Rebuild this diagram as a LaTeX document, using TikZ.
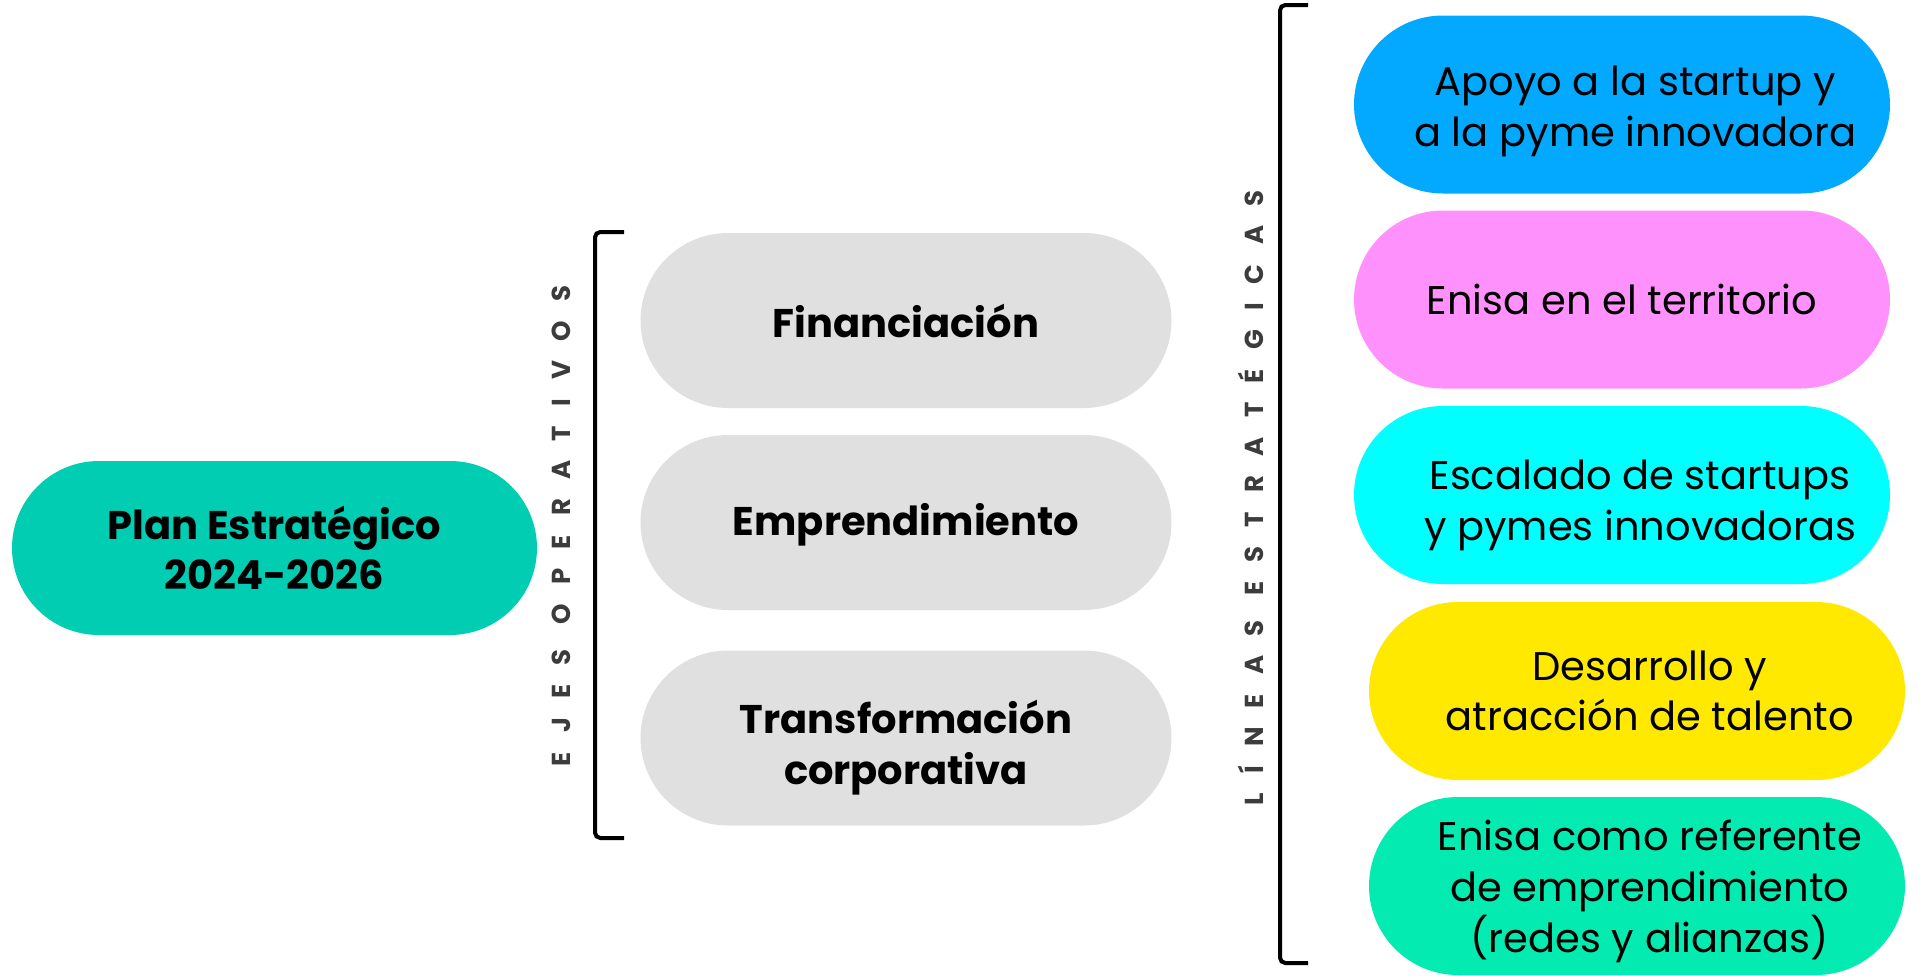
\documentclass[tikz,border=0pt]{standalone}
\usepackage{fontspec}
\setmainfont{Poppins}
\newfontfamily\spacedfont[LetterSpace=74]{Poppins}
\usetikzlibrary{shapes.misc}
\definecolor{plancol}{RGB}{0,205,178}
\definecolor{graycol}{RGB}{224,224,224}
\definecolor{bluecol}{RGB}{3,169,255}
\definecolor{pinkcol}{RGB}{255,145,252}
\definecolor{cyancol}{RGB}{0,255,255}
\definecolor{yellowcol}{RGB}{255,233,0}
\definecolor{greencol}{RGB}{4,235,178}
\definecolor{labelcol}{RGB}{60,60,60}
\tikzset{
  pill/.style={rounded rectangle, draw=none, inner sep=0pt},
  planbox/.style={pill, fill=plancol, minimum width=393.75pt, minimum height=130.5pt},
  graybox/.style={pill, fill=graycol, minimum width=398.25pt, minimum height=131.25pt},
  linebox/.style={pill, minimum width=402pt, minimum height=133.5pt},
  boldtext/.style={align=center, font=\fontsize{30}{38}\selectfont\bfseries},
  linetext/.style={align=center, font=\fontsize{30}{38}\selectfont},
  vlabel/.style={rotate=90, text=labelcol, font=\fontsize{19.5}{22}\selectfont\spacedfont\bfseries},
  bracket/.style={line width=3pt, rounded corners=4pt}
}
\begin{document}
\begin{tikzpicture}[x=0.75pt,y=-0.75pt]
\useasboundingbox (0,0) rectangle (1921,975);
% main node
\node[planbox] (plan) at (274.5,548) {};
\node[boldtext] (plant) at (plan.center) {Plan Estratégico\\2024-2026};
% ejes operativos
\node[vlabel] (ejes) at (561,526) {EJES OPERATIVOS};
\coordinate (b1a) at (624,232);
\coordinate (b1b) at (595,232);
\coordinate (b1c) at (595,838);
\coordinate (b1d) at (624,838);
\draw[bracket] (b1a) -- (b1b) -- (b1c) -- (b1d);
\node[graybox] (fin) at (906,320.5) {};
\node[boldtext] at (fin.center) {Financiación};
\node[graybox] (emp) at (906,522.5) {};
\node[boldtext] at ([yshift=-2pt]emp.center) {Emprendimiento};
\node[graybox] (tra) at (906,738) {};
\node[boldtext] at ([yshift=-7pt]tra.center) {Transformación\\corporativa};
% lineas estrategicas
\node[vlabel] (lineas) at (1251,498) {LÍNEAS ESTRATÉGICAS};
\coordinate (b2a) at (1308,5);
\coordinate (b2b) at (1280,5);
\coordinate (b2c) at (1280,963);
\coordinate (b2d) at (1308,963);
\draw[bracket] (b2a) -- (b2b) -- (b2c) -- (b2d);
\node[linebox, fill=bluecol] (l1) at (1622,104.5) {};
\node[linetext] at ([xshift=10pt,yshift=-5pt]l1.center) {Apoyo a la startup y\\a la pyme innovadora};
\node[linebox, fill=pinkcol] (l2) at (1622,299.5) {};
\node[linetext] at (l2.center) {Enisa en el territorio};
\node[linebox, fill=cyancol] (l3) at (1622,495) {};
\node[linetext] at ([xshift=13.5pt,yshift=-8pt]l3.center) {Escalado de startups\\y pymes innovadoras};
\node[linebox, fill=yellowcol] (l4) at (1637,691) {};
\node[linetext] at ([xshift=9.5pt]l4.center) {Desarrollo y\\atracción de talento};
\node[linebox, fill=greencol] (l5) at (1637,886) {};
\node[linetext] at ([xshift=9.5pt,yshift=-4pt]l5.center) {Enisa como referente\\de emprendimiento\\(redes y alianzas)};
\end{tikzpicture}
\end{document}
